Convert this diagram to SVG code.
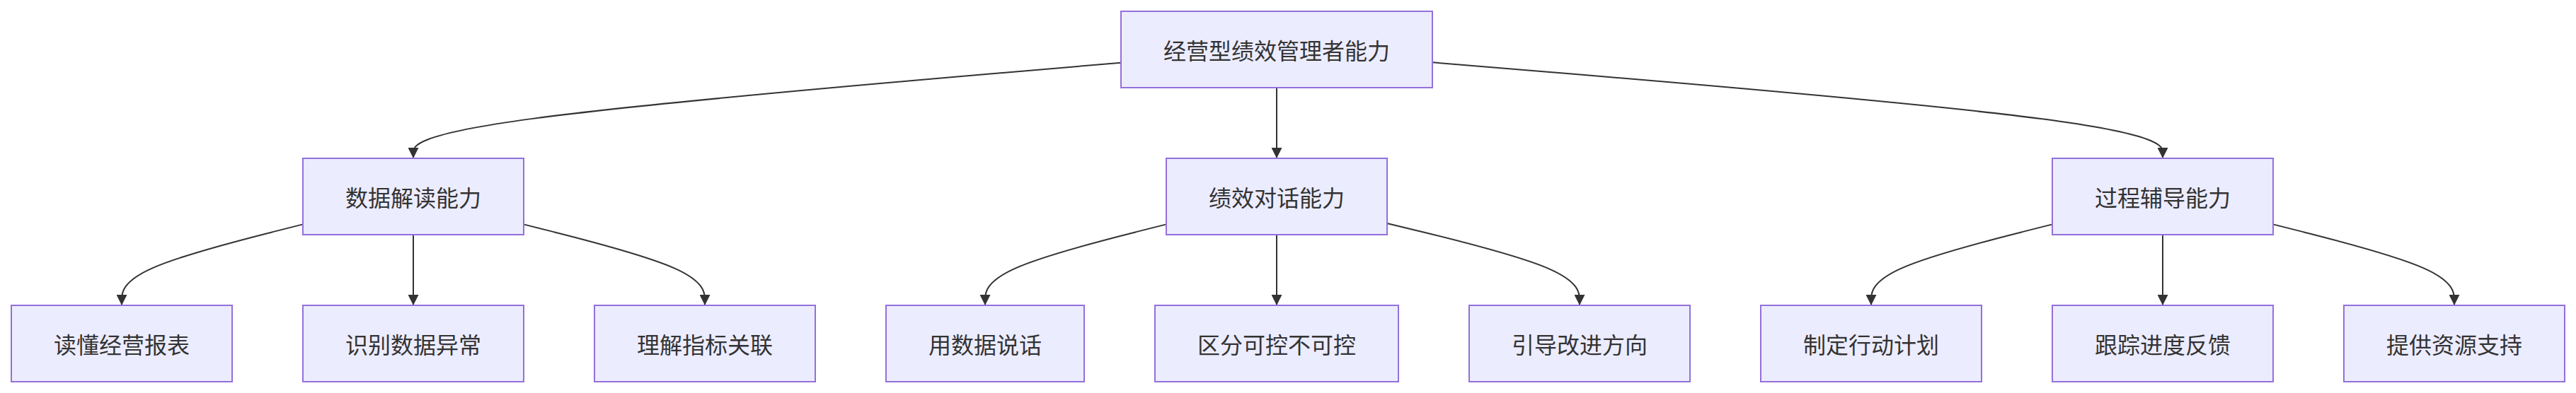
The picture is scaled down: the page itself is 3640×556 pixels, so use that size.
<svg xmlns="http://www.w3.org/2000/svg" width="3640" height="556" viewBox="0 0 3640 556">
<style>
.node rect{fill:#ECECFF;stroke:#9370DB;stroke-width:2;}
.node text{font-family:"Noto Sans CJK SC","Liberation Sans",sans-serif;font-size:32px;fill:#333333;text-anchor:middle;dominant-baseline:central;}
.edges path{fill:none;stroke:#333333;stroke-width:2;}
</style>
<defs>
<marker id="arrow" viewBox="0 0 10 10" refX="10" refY="5" markerUnits="userSpaceOnUse" markerWidth="15" markerHeight="15" orient="auto">
<path d="M 0 0 L 10 5 L 0 10 z" fill="#333333" stroke="none"/>
</marker>
</defs>
<rect x="0" y="0" width="3640" height="556" fill="#ffffff"/>
<g class="edges" id="connectors">
<path marker-end="url(#arrow)" d="M1584,88.75 L1417.33,102.96 C1250.67,117.17 917.33,145.58 750.67,168.13 C584,190.67 584,207.33 584,215.67 L584,224"/>
<path marker-end="url(#arrow)" d="M1804,124 L1804,224"/>
<path marker-end="url(#arrow)" d="M2024,88.27 L2196,102.56 C2368,116.85 2712,145.42 2884,168.05 C3056,190.67 3056,207.33 3056,215.67 L3056,224"/>
<path marker-end="url(#arrow)" d="M428,317.38 L385.33,328.15 C342.67,338.92 257.33,360.46 214.67,379.56 C172,398.67 172,415.33 172,423.67 L172,432"/>
<path marker-end="url(#arrow)" d="M584,332 L584,432"/>
<path marker-end="url(#arrow)" d="M740,317.38 L782.67,328.15 C825.33,338.92 910.67,360.46 953.33,379.56 C996,398.67 996,415.33 996,423.67 L996,432"/>
<path marker-end="url(#arrow)" d="M1648,317.38 L1605.33,328.15 C1562.67,338.92 1477.33,360.46 1434.67,379.56 C1392,398.67 1392,415.33 1392,423.67 L1392,432"/>
<path marker-end="url(#arrow)" d="M1804,332 L1804,432"/>
<path marker-end="url(#arrow)" d="M1960,315.91 L2005.33,326.92 C2050.67,337.94 2141.33,359.97 2186.67,379.32 C2232,398.67 2232,415.33 2232,423.67 L2232,432"/>
<path marker-end="url(#arrow)" d="M2900,317.38 L2857.33,328.15 C2814.67,338.92 2729.33,360.46 2686.67,379.56 C2644,398.67 2644,415.33 2644,423.67 L2644,432"/>
<path marker-end="url(#arrow)" d="M3056,332 L3056,432"/>
<path marker-end="url(#arrow)" d="M3212,317.38 L3254.67,328.15 C3297.33,338.92 3382.67,360.46 3425.33,379.56 C3468,398.67 3468,415.33 3468,423.67 L3468,432"/>
</g>
<g class="node" id="root"><rect x="1584" y="16" width="440" height="108"/><text x="1804" y="70">经营型绩效管理者能力</text></g>
<g class="node" id="data"><rect x="428" y="224" width="312" height="108"/><text x="584" y="278">数据解读能力</text></g>
<g class="node" id="talk"><rect x="1648" y="224" width="312" height="108"/><text x="1804" y="278">绩效对话能力</text></g>
<g class="node" id="coach"><rect x="2900" y="224" width="312" height="108"/><text x="3056" y="278">过程辅导能力</text></g>
<g class="node" id="d1"><rect x="16" y="432" width="312" height="108"/><text x="172" y="486">读懂经营报表</text></g>
<g class="node" id="d2"><rect x="428" y="432" width="312" height="108"/><text x="584" y="486">识别数据异常</text></g>
<g class="node" id="d3"><rect x="840" y="432" width="312" height="108"/><text x="996" y="486">理解指标关联</text></g>
<g class="node" id="t1"><rect x="1252" y="432" width="280" height="108"/><text x="1392" y="486">用数据说话</text></g>
<g class="node" id="t2"><rect x="1632" y="432" width="344" height="108"/><text x="1804" y="486">区分可控不可控</text></g>
<g class="node" id="t3"><rect x="2076" y="432" width="312" height="108"/><text x="2232" y="486">引导改进方向</text></g>
<g class="node" id="c1"><rect x="2488" y="432" width="312" height="108"/><text x="2644" y="486">制定行动计划</text></g>
<g class="node" id="c2"><rect x="2900" y="432" width="312" height="108"/><text x="3056" y="486">跟踪进度反馈</text></g>
<g class="node" id="c3"><rect x="3312" y="432" width="312" height="108"/><text x="3468" y="486">提供资源支持</text></g>
</svg>
